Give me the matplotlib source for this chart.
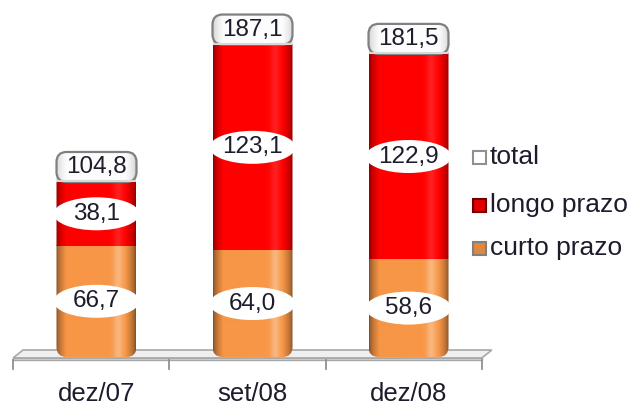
import numpy as np
import matplotlib
matplotlib.use("Agg")
import matplotlib.pyplot as plt
from matplotlib.patches import FancyBboxPatch, Ellipse, Polygon, Rectangle

# ---- data ----
categories = ["dez/07", "set/08", "dez/08"]
curto_prazo = [66.7, 64.0, 58.6]
longo_prazo = [38.1, 123.1, 122.9]
total = [104.8, 187.1, 181.5]
curto_labels = ["66,7", "64,0", "58,6"]
longo_labels = ["38,1", "123,1", "122,9"]
total_labels = ["104,8", "187,1", "181,5"]
legend_labels = ["total", "longo prazo", "curto prazo"]

plt.rcParams['font.family'] = ['Liberation Sans', 'DejaVu Sans']
TXT = '#1c1c2c'
ORANGE = np.array([247, 150, 70]) / 255
RED = np.array([255, 0, 0]) / 255

W, H = 631, 412
fig = plt.figure(figsize=(W / 100, H / 100), dpi=100)
ax = fig.add_axes([0, 0, 1, 1])
PXX = 156.0   # px per category
PXY = 1.67    # px per unit
X0 = 96.5     # px of first bar
Y0 = 357.0    # px (from top) of value 0
ax.set_xlim(-X0 / PXX, (W - X0) / PXX)
ax.set_ylim(-(H - Y0) / PXY, Y0 / PXY)
ax.axis('off')

bw = 80 / PXX
cap_h = 30 / PXY
aspect = PXX / PXY


def shade_row(base, dark=0.5, hl=0.35):
    t = np.linspace(0, 1, 200)
    d = np.clip(np.minimum(t, 1 - t) / 0.13, 0, 1)
    f = dark + (1 - dark) * d ** 0.6
    col = base[None, :] * f[:, None]
    h = hl * np.exp(-((t - 0.78) / 0.06) ** 2)
    col = col + (1 - col) * h[:, None]
    return np.clip(col, 0, 1)[None, :, :]


# ---- floor platform ----
fl, fr = -0.535, 2.47
dx = 10 / PXX
yb, yf, yff = (Y0 - 350) / PXY, (Y0 - 358) / PXY, (Y0 - 360) / PXY
ytick = (Y0 - 369) / PXY
ax.add_patch(Polygon([(fl, yf), (fr, yf), (fr + dx, yb), (fl + dx, yb)],
                     closed=True, facecolor='#efefef', edgecolor='#a8a8a8', lw=1.2, zorder=1))
ax.add_patch(Polygon([(fl, yff), (fr, yff), (fr, yf), (fl, yf)],
                     closed=True, facecolor='#e0e0e0', edgecolor='#a8a8a8', lw=1.0, zorder=1))
for i in range(len(categories) + 1):
    xt = fl + i * (fr - fl) / len(categories)
    ax.plot([xt, xt], [yff, ytick], color='#909090', lw=1.3, zorder=1)

# ---- bars ----
for i in range(len(categories)):
    x = i
    top = total[i] + cap_h
    clip = FancyBboxPatch((x - bw / 2, 0), bw, top,
                          boxstyle="round,pad=0,rounding_size=0.065",
                          mutation_aspect=aspect, transform=ax.transData,
                          facecolor='none', edgecolor='none')
    segs = [(0, curto_prazo[i], shade_row(ORANGE, 0.5, 0.3)),
            (curto_prazo[i], curto_prazo[i] + longo_prazo[i], shade_row(RED, 0.55, 0.12)),
            (total[i], top, shade_row(np.array([0.99, 0.99, 0.99]), 0.82, 0.0))]
    for (y0, y1, img) in segs:
        im = ax.imshow(img, extent=(x - bw / 2, x + bw / 2, y0, y1), aspect='auto',
                       interpolation='bilinear', zorder=2)
        im.set_clip_path(clip)
    # cap outline
    cap = FancyBboxPatch((x - bw / 2, total[i]), bw, cap_h,
                         boxstyle="round,pad=0,rounding_size=0.065",
                         mutation_aspect=aspect, facecolor='none',
                         edgecolor='#808080', lw=1.6, zorder=3)
    ax.add_patch(cap)
    ax.plot([x - bw / 2 + 0.01, x + bw / 2 - 0.01], [total[i] + 0.4, total[i] + 0.4],
            color='#d8d8d8', lw=1.5, zorder=3)
    # labels
    ax.text(x, total[i] + cap_h / 2 - 0.3, total_labels[i], ha='center', va='center',
            fontsize=17.5, color=TXT, zorder=5)
    for yc, lab in [(curto_prazo[i] / 2, curto_labels[i]),
                    (curto_prazo[i] + longo_prazo[i] / 2, longo_labels[i])]:
        ax.add_patch(Ellipse((x, yc), 86 / PXX, 33 / PXY, facecolor='white',
                             edgecolor='none', zorder=4))
        ax.text(x, yc, lab, ha='center', va='center', fontsize=17.5, color=TXT, zorder=5)
    ax.text(x, (Y0 - 394) / PXY, categories[i], ha='center', va='center',
            fontsize=18.5, color=TXT, zorder=5)

# ---- legend ----
leg_y = [157, 205, 248]
leg_faces = ['white', '#e00000', '#e08840']
leg_edges = ['#909090', '#700000', '#808080']
for yy, lab, fc, ec in zip(leg_y, legend_labels, leg_faces, leg_edges):
    s = 13
    fig.patches.append(Rectangle((473 / W, 1 - (yy + s / 2) / H), s / W, s / H,
                                 transform=fig.transFigure, facecolor=fc,
                                 edgecolor=ec, lw=1.5))
    fig.text(490 / W, 1 - yy / H, lab, ha='left', va='center', fontsize=19, color=TXT)

fig.savefig('out.png', dpi=100)
